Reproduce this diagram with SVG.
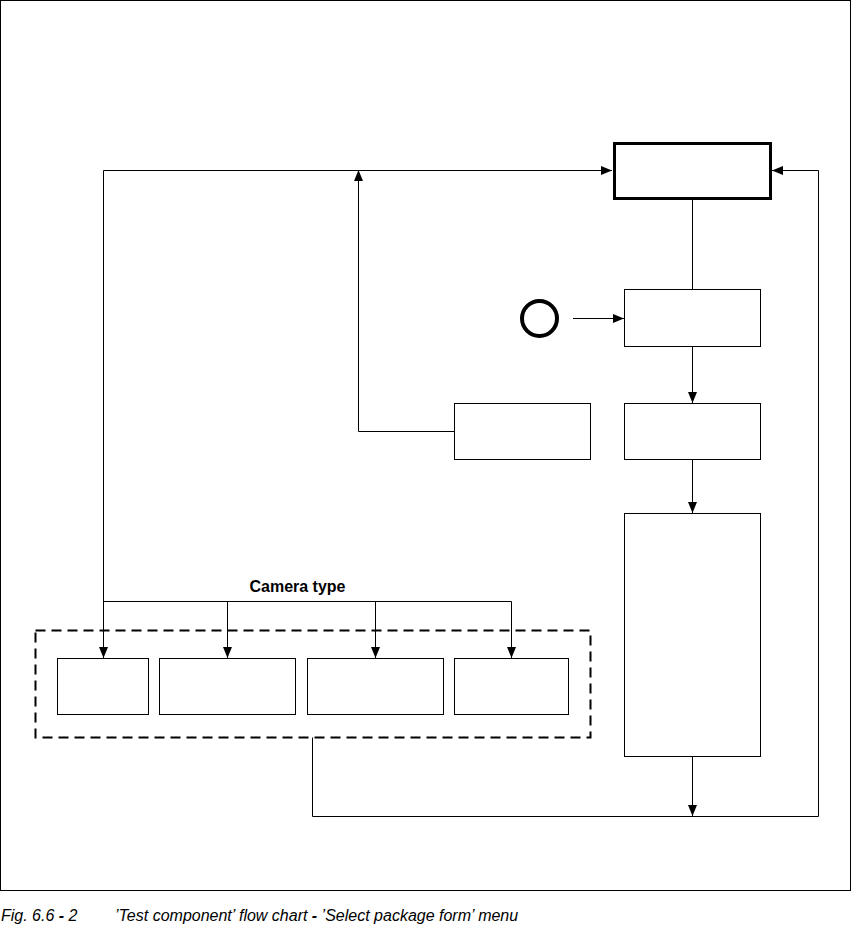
<svg xmlns="http://www.w3.org/2000/svg" width="852" height="925" viewBox="0 0 852 925">
<defs>
<marker id="arr" markerUnits="userSpaceOnUse" markerWidth="12" markerHeight="10" refX="11" refY="5" orient="auto" viewBox="0 0 12 10">
<path d="M0,0.5 L11,5 L0,9.5 z" fill="#000"/>
</marker>
<style>
.box{fill:#fff;stroke:#000;stroke-width:1}
.con{fill:none;stroke:#000;stroke-width:1}
.lbl{font-family:"Liberation Sans",Arial,sans-serif;font-size:16px;fill:#000}
</style>
</defs>
<rect x="0" y="0" width="852" height="925" fill="#fff"/>
<rect x="0.5" y="0.5" width="850" height="890" fill="none" stroke="#000" stroke-width="1"/>

<g id="connectors">
<path class="con" d="M103.5,170.5 L612,170.5" marker-end="url(#arr)"/>
<path class="con" d="M103.5,170.5 L103.5,658" marker-end="url(#arr)"/>
<path class="con" d="M103.5,601.5 L511.5,601.5"/>
<path class="con" d="M227.5,601.5 L227.5,658" marker-end="url(#arr)"/>
<path class="con" d="M375.5,601.5 L375.5,658" marker-end="url(#arr)"/>
<path class="con" d="M511.5,601.5 L511.5,658" marker-end="url(#arr)"/>
<path class="con" d="M454.5,431.5 L358.5,431.5 L358.5,170" marker-end="url(#arr)"/>
<path class="con" d="M692.5,199 L692.5,289.5"/>
<path class="con" d="M573,318.5 L624,318.5" marker-end="url(#arr)"/>
<path class="con" d="M692.5,346.5 L692.5,403" marker-end="url(#arr)"/>
<path class="con" d="M692.5,459.5 L692.5,513" marker-end="url(#arr)"/>
<path class="con" d="M692.5,756.5 L692.5,816" marker-end="url(#arr)"/>
<path class="con" d="M312.5,737.5 L312.5,816.5 L818.5,816.5 L818.5,170.5 L772,170.5" marker-end="url(#arr)"/>
</g>

<g id="start">
<circle cx="539.5" cy="318.5" r="17.5" fill="#fff" stroke="#000" stroke-width="4"/>
</g>
<g id="top-box">
<rect x="614.5" y="143.5" width="156" height="55" fill="#fff" stroke="#000" stroke-width="3"/>
</g>
<g id="box-2"><rect class="box" x="624.5" y="289.5" width="136" height="57"/></g>
<g id="box-3"><rect class="box" x="624.5" y="403.5" width="136" height="56"/></g>
<g id="box-left"><rect class="box" x="454.5" y="403.5" width="136" height="56"/></g>
<g id="box-big"><rect class="box" x="624.5" y="513.5" width="136" height="243"/></g>

<g id="camera-group">
<rect x="35.5" y="630.5" width="555" height="107" fill="none" stroke="#000" stroke-width="2" stroke-dasharray="10,6"/>
<text class="lbl" x="297.5" y="592" text-anchor="middle" font-weight="bold" font-size="15.5">Camera type</text>
</g>
<g id="cam-1"><rect class="box" x="57.5" y="658.5" width="91" height="56"/></g>
<g id="cam-2"><rect class="box" x="159.5" y="658.5" width="136" height="56"/></g>
<g id="cam-3"><rect class="box" x="307.5" y="658.5" width="136" height="56"/></g>
<g id="cam-4"><rect class="box" x="454.5" y="658.5" width="114" height="56"/></g>

<g id="caption">
<text class="lbl" x="1" y="921" font-style="italic">Fig. 6.6 <tspan font-weight="bold">-</tspan> 2</text>
<text class="lbl" x="115" y="921" font-style="italic">’Test component’ flow chart <tspan font-weight="bold">-</tspan> ’Select package form’ menu</text>
</g>
</svg>
